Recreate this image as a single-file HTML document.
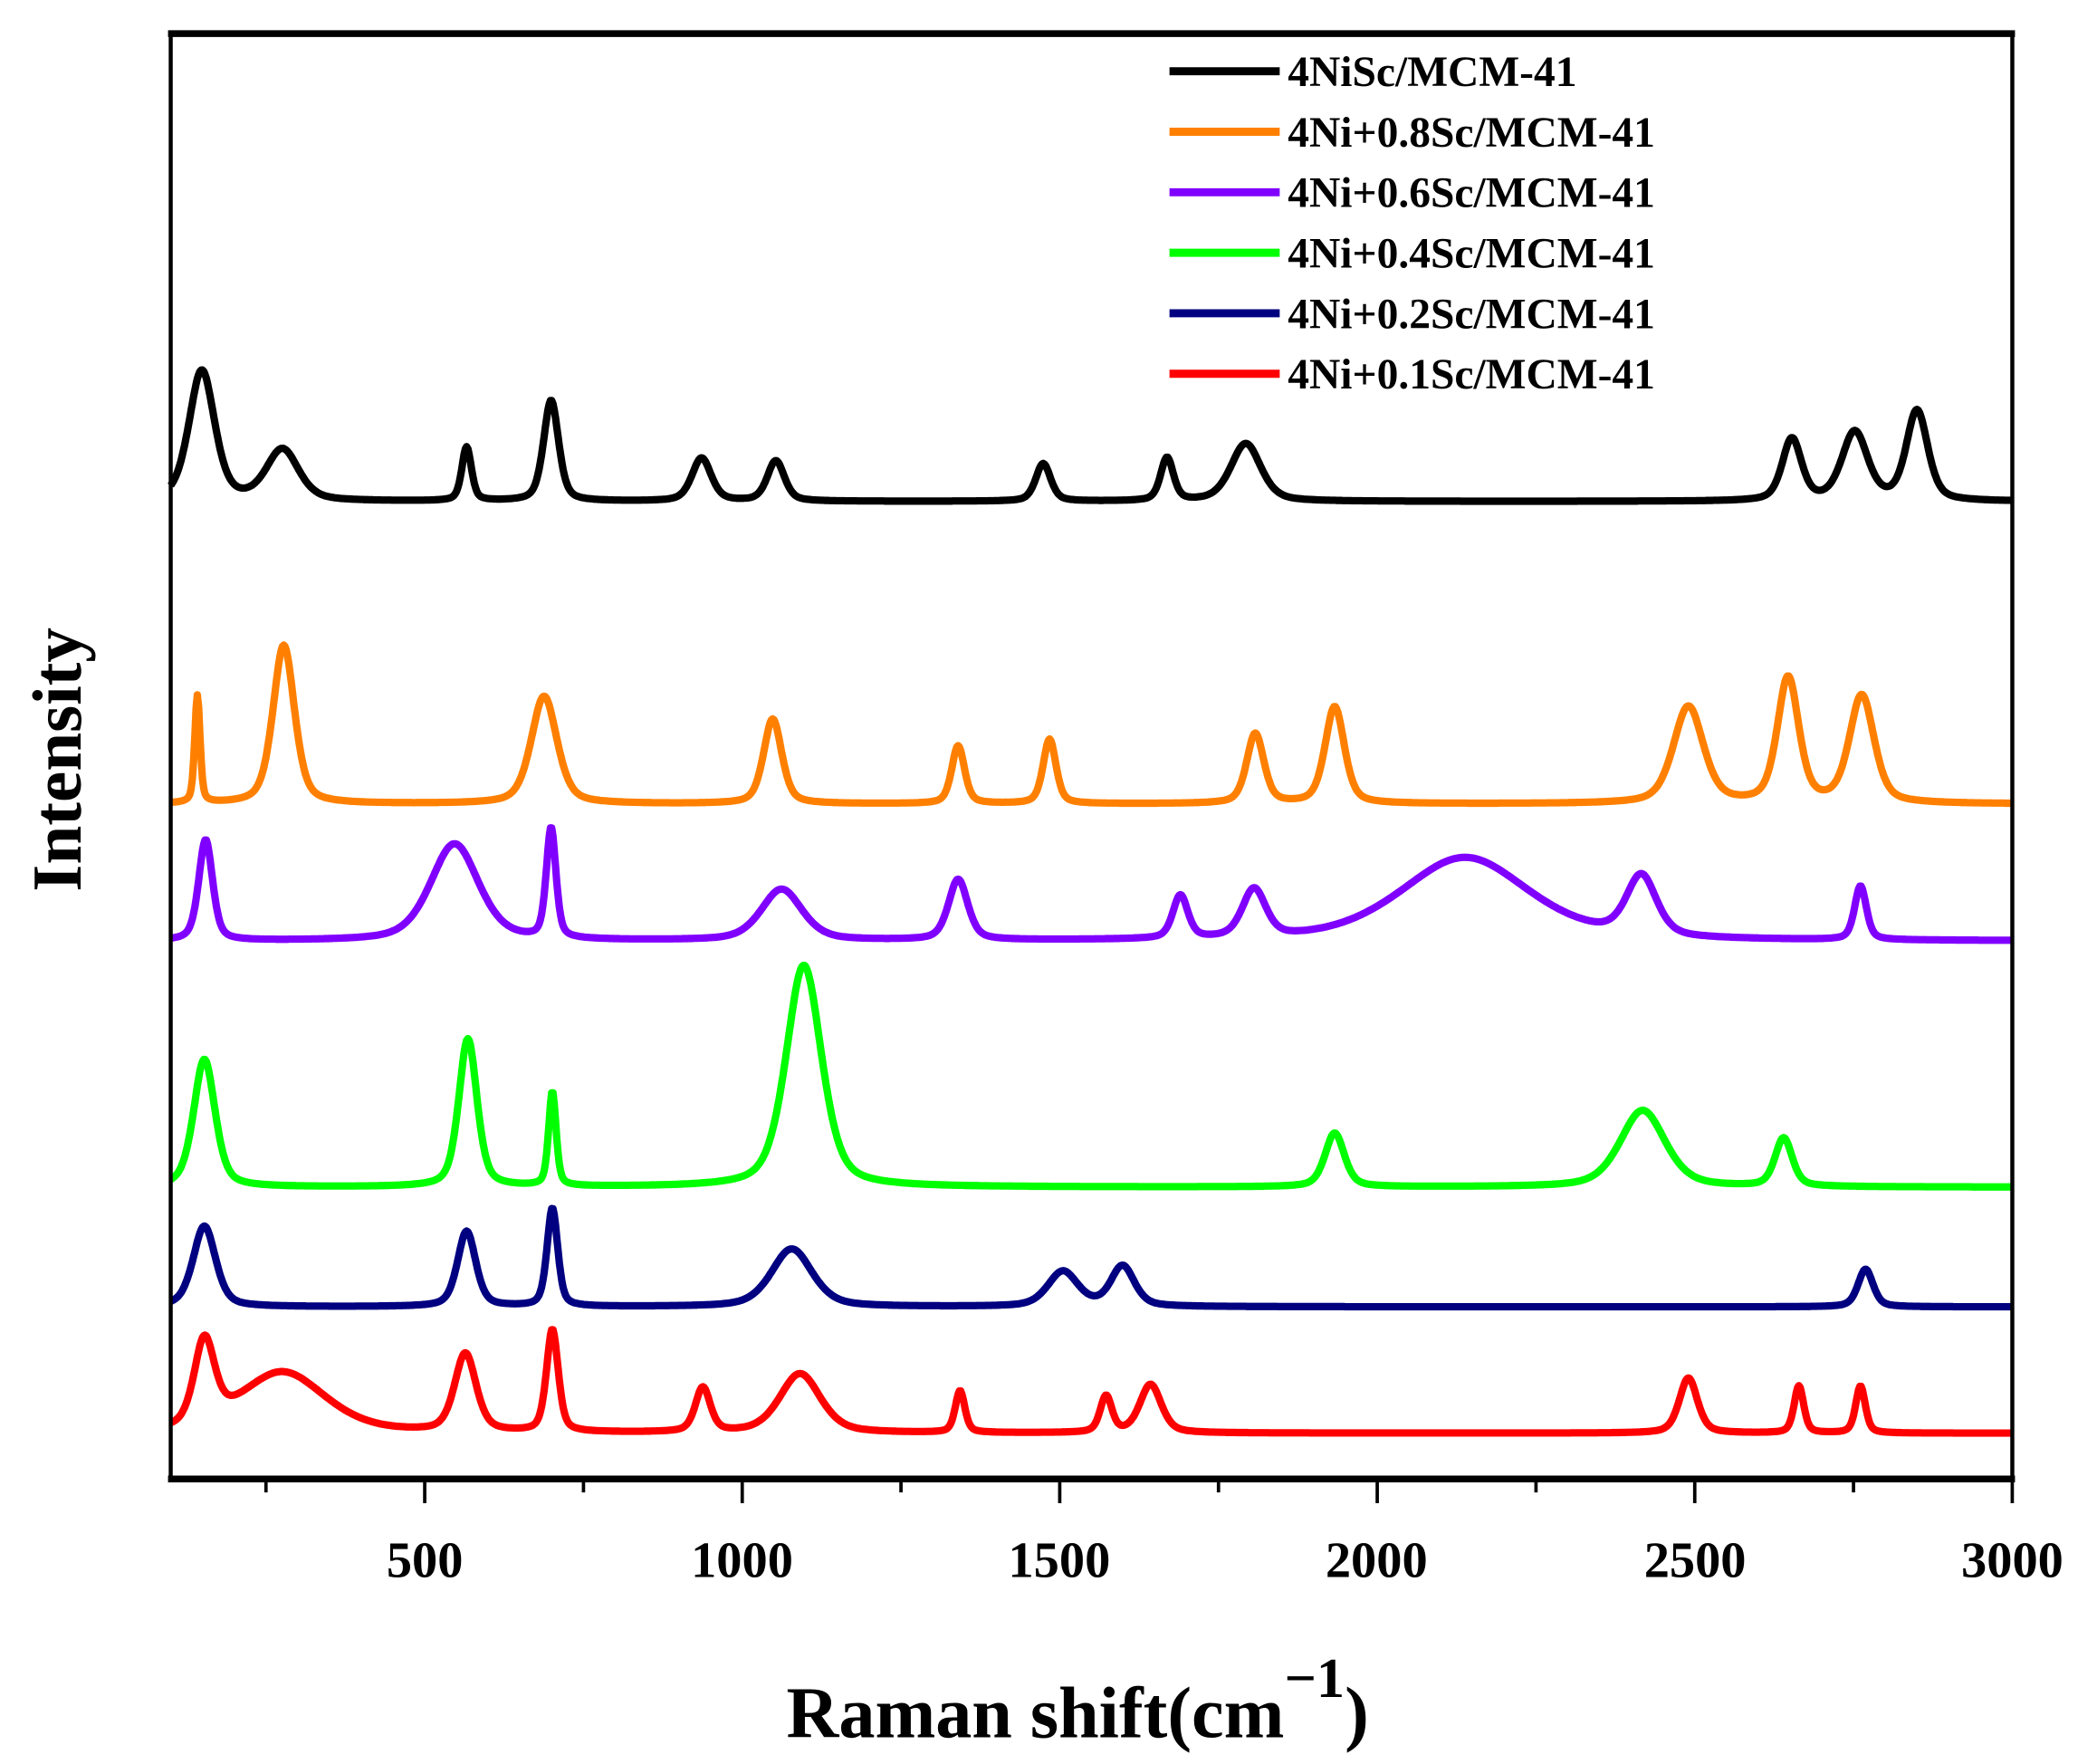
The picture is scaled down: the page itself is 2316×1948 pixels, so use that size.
<!DOCTYPE html>
<html><head><meta charset="utf-8"><style>
html,body{margin:0;padding:0;background:#fff}
svg{display:block}
text{font-family:"Liberation Serif",serif;font-weight:bold;fill:#000}
</style></head><body>
<svg id="s" width="2316" height="1948" viewBox="0 0 1560 1312" preserveAspectRatio="none" xmlns="http://www.w3.org/2000/svg">
<rect width="1560" height="1312" fill="#fff"/>
<g id="curves" fill="none" stroke-width="5.5" stroke-linejoin="round"></g>
<rect x="127" y="25" width="1370" height="1075" fill="none" stroke="#000" stroke-width="3"/>
<line x1="125" y1="25" x2="1499" y2="25" stroke="#000" stroke-width="5"/>
<line x1="125" y1="1100" x2="1499" y2="1100" stroke="#000" stroke-width="5"/>
<g id="ticks" stroke="#000" stroke-width="2.5"></g>
<g font-size="38" text-anchor="middle">
<text x="316" y="1173">500</text><text x="552" y="1173">1000</text><text x="788" y="1173">1500</text>
<text x="1024" y="1173">2000</text><text x="1261" y="1173">2500</text><text x="1497" y="1173">3000</text>
</g>
<text x="585" y="1292" font-size="54">Raman shift(cm<tspan font-size="42" dy="-30">−1</tspan><tspan dy="30">)</tspan></text>
<text transform="translate(60,565) rotate(-90)" font-size="52" text-anchor="middle">Intensity</text>
<g id="leg" font-size="32"></g>
</svg>
<script>
var X=function(c){return 127+(c-100)*0.4724;};
var series=[
["#000",373,[[149,97,24],[276,38,30],[566,40,9],[699,75,14],[936,32,18],[1053,30,16],[1474,28,14],[1669,32,12],[1793,43,28],[2653,46,18],[2752,51,24],[2850,67,20]]],
["#ff8000",598,[[142,80,5],[278,118,20],[688,80,24],[1048,63,17],[1340,43,12],[1484,48,12],[1808,52,16],[1933,72,18],[2490,72,28],[2647,93,20],[2763,80,23]]],
["#8000ff",700,[[155,75,13],[547,72,45],[699,82,9],[1062,38,38],[1340,45,18],[1690,32,14],[1806,36,22],[2138,62,120],[2416,45,28],[2761,40,11]]],
["#00ff00",883,[[153,95,20],[568,110,17],[701,70,7],[1097,165,33],[1933,40,18],[2418,57,42],[2640,36,16]]],
["#000080",972,[[153,60,21],[566,56,17],[701,73,10],[1078,43,38],[1505,26,28],[1599,30,22],[2769,28,14]]],
["#ff0000",1066,[[153,62,19],[276,45,80],[564,58,20],[701,76,11],[938,33,14],[1091,44,38],[1343,31,9],[1573,27,11],[1643,36,20],[2490,41,17],[2664,35,9],[2761,35,9]]]
];
var g=document.getElementById('curves'),ns="http://www.w3.org/2000/svg";
series.forEach(function(s){
 var d="";
 for(var c=100;c<=3000;c+=2){
  var v=0;
  s[2].forEach(function(p){var t=(c-p[0])/p[2];v+=p[1]*(0.55*Math.exp(-0.693*t*t)+0.45/(1+t*t));});
  var y=s[1]-v;
  d+=(c==100?"M":"L")+X(c).toFixed(1)+","+y.toFixed(1);
 }
 var p=document.createElementNS(ns,"path");p.setAttribute("d",d);p.setAttribute("stroke",s[0]);g.appendChild(p);
});
var tk=document.getElementById('ticks');
for(var c=250;c<=3000;c+=250){
 var l=document.createElementNS(ns,"line");var x=X(c);
 l.setAttribute("x1",x);l.setAttribute("x2",x);l.setAttribute("y1",1100);l.setAttribute("y2",c%500==0?1118:1110);tk.appendChild(l);
}
var lg=document.getElementById('leg');
var names=["4NiSc/MCM-41","4Ni+0.8Sc/MCM-41","4Ni+0.6Sc/MCM-41","4Ni+0.4Sc/MCM-41","4Ni+0.2Sc/MCM-41","4Ni+0.1Sc/MCM-41"];
names.forEach(function(n,i){
 var y=53+i*45;
 var l=document.createElementNS(ns,"line");l.setAttribute("x1",870);l.setAttribute("x2",952);l.setAttribute("y1",y);l.setAttribute("y2",y);
 l.setAttribute("stroke",series[i][0]);l.setAttribute("stroke-width",6);lg.appendChild(l);
 var t=document.createElementNS(ns,"text");t.setAttribute("x",958);t.setAttribute("y",y+11);t.textContent=n;lg.appendChild(t);
});
</script>
</body></html>
